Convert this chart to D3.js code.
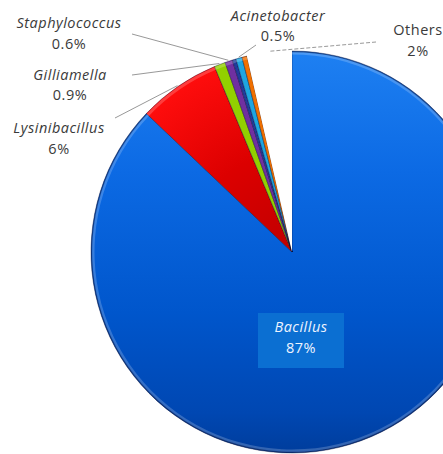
<!DOCTYPE html>
<html>
<head>
<meta charset="utf-8">
<script src="https://cdn.jsdelivr.net/npm/d3@7"></script>
<style>
  html, body { margin: 0; padding: 0; background: #ffffff; overflow: hidden; }
  svg { display: block; }
  text { font-family: "Open Sans", "Lato", sans-serif; }
</style>
</head>
<body>
<svg id="chart" width="443" height="454"></svg>
<script>
// ---- data ----
const categories = ["Bacillus", "Lysinibacillus", "Gilliamella", "Staphylococcus", "Minor A", "Acinetobacter", "Minor B", "Others"];
const values     = [87.1, 6.6, 0.9, 0.6, 0.3, 0.5, 0.4, 3.6];
const pctLabels  = ["87%", "6%", "0.9%", "0.6%", "", "0.5%", "", "2%"];
const italicName = [true, true, true, true, false, true, false, false];

// ---- styling / layout ----
const colors = ["#0d66dc", "#e00000", "#92d000", "#7030a0", "#203c9c", "#1ea6e0", "#f07000", "#ffffff"];
const W = 443, H = 454;
const cx = 292, cy = 252, R = 201;
const FS = 14.5, LS = 0.5;

// label anchors (layout only)
const labelLayout = {
  "Lysinibacillus": { x: 59, y1: 133, y2: 154, line: [115, 118] },
  "Gilliamella":    { x: 70, y1: 80,  y2: 100, line: [132, 75] },
  "Staphylococcus": { x: 69, y1: 28,  y2: 49,  line: [132, 34] },
  "Acinetobacter":  { x: 278, y1: 21, y2: 41,  line: [256, 45] },
  "Others":         { x: 418, y1: 35, y2: 56,  line: [376, 42], dashed: true }
};

const svg = d3.select("#chart");
const defs = svg.append("defs");

// gradients (coordinates relative to pie centre)
const gBlue = defs.append("linearGradient").attr("id", "gBlue")
  .attr("gradientUnits", "userSpaceOnUse")
  .attr("x1", 0).attr("y1", -R).attr("x2", 0).attr("y2", R);
[["0", "#1e80f2"], ["0.3", "#0c6ae4"], ["0.65", "#0056cc"], ["0.9", "#0047b2"], ["1", "#003d9c"]]
  .forEach(([o, c]) => gBlue.append("stop").attr("offset", o).attr("stop-color", c));

const gRed = defs.append("radialGradient").attr("id", "gRed")
  .attr("gradientUnits", "userSpaceOnUse")
  .attr("cx", 0).attr("cy", 0).attr("r", R);
[["0", "#c00000"], ["0.5", "#dc0000"], ["1", "#ff0d0d"]]
  .forEach(([o, c]) => gRed.append("stop").attr("offset", o).attr("stop-color", c));

const fills = colors.slice();
fills[0] = "url(#gBlue)";
fills[1] = "url(#gRed)";

const pie = d3.pie().sort(null).value(d => d).startAngle(0).endAngle(2 * Math.PI);
const arcs = pie(values);
const arc = d3.arc().innerRadius(0).outerRadius(R);

const g = svg.append("g").attr("transform", `translate(${cx},${cy})`);

g.selectAll("path.slice")
  .data(arcs)
  .join("path")
  .attr("class", "slice")
  .attr("d", arc)
  .attr("fill", (d, i) => fills[i])
  .attr("stroke", (d, i) => categories[i] === "Others" ? "none" : "rgba(0,0,40,0.45)")
  .attr("stroke-width", 0.8)
  .attr("stroke-linejoin", "round");

// bevel highlight along outer rim (lighter edge)
const rimArc = d3.arc().innerRadius(R - 3.5).outerRadius(R - 0.6);
g.selectAll("path.rim")
  .data(arcs.filter((d, i) => categories[i] !== "Others"))
  .join("path")
  .attr("class", "rim")
  .attr("d", rimArc)
  .attr("fill", "rgba(255,255,255,0.2)");

// outer dark edge on the big slice
const shadowArc = d3.arc().innerRadius(R - 1.2).outerRadius(R);
g.append("path")
  .datum(arcs[0])
  .attr("d", shadowArc)
  .attr("fill", "rgba(0,20,70,0.5)");

// leader lines + external labels
const outerPt = d => {
  const a = (d.startAngle + d.endAngle) / 2;
  return [cx + Math.sin(a) * (R + 1), cy - Math.cos(a) * (R + 1)];
};

arcs.forEach((d, i) => {
  const name = categories[i];
  const L = labelLayout[name];
  if (!L) return;
  const p = outerPt(d);
  svg.append("line")
    .attr("x1", L.line[0]).attr("y1", L.line[1])
    .attr("x2", p[0]).attr("y2", p[1])
    .attr("stroke", "#8c8c8c")
    .attr("stroke-width", 0.9)
    .attr("stroke-dasharray", L.dashed ? "4,2" : null);
  svg.append("text")
    .attr("x", L.x).attr("y", L.y1)
    .attr("text-anchor", "middle")
    .attr("font-size", FS)
    .attr("letter-spacing", LS)
    .attr("font-style", italicName[i] ? "italic" : "normal")
    .attr("fill", "#3a3a3a")
    .text(name);
  svg.append("text")
    .attr("x", L.x).attr("y", L.y2)
    .attr("text-anchor", "middle")
    .attr("font-size", FS)
    .attr("letter-spacing", LS)
    .attr("fill", "#3a3a3a")
    .text(pctLabels[i]);
});

// Bacillus inner label with box
const bx = 301, by = 340;
svg.append("rect")
  .attr("x", bx - 43).attr("y", by - 27)
  .attr("width", 86).attr("height", 55)
  .attr("fill", "#0b6fd2");
svg.append("text")
  .attr("x", bx).attr("y", by - 8)
  .attr("text-anchor", "middle")
  .attr("font-size", FS)
  .attr("letter-spacing", LS)
  .attr("font-style", "italic")
  .attr("fill", "#eef4ff")
  .text(categories[0]);
svg.append("text")
  .attr("x", bx).attr("y", by + 13)
  .attr("text-anchor", "middle")
  .attr("font-size", FS)
  .attr("letter-spacing", LS)
  .attr("fill", "#eef4ff")
  .text(pctLabels[0]);
</script>
</body>
</html>
